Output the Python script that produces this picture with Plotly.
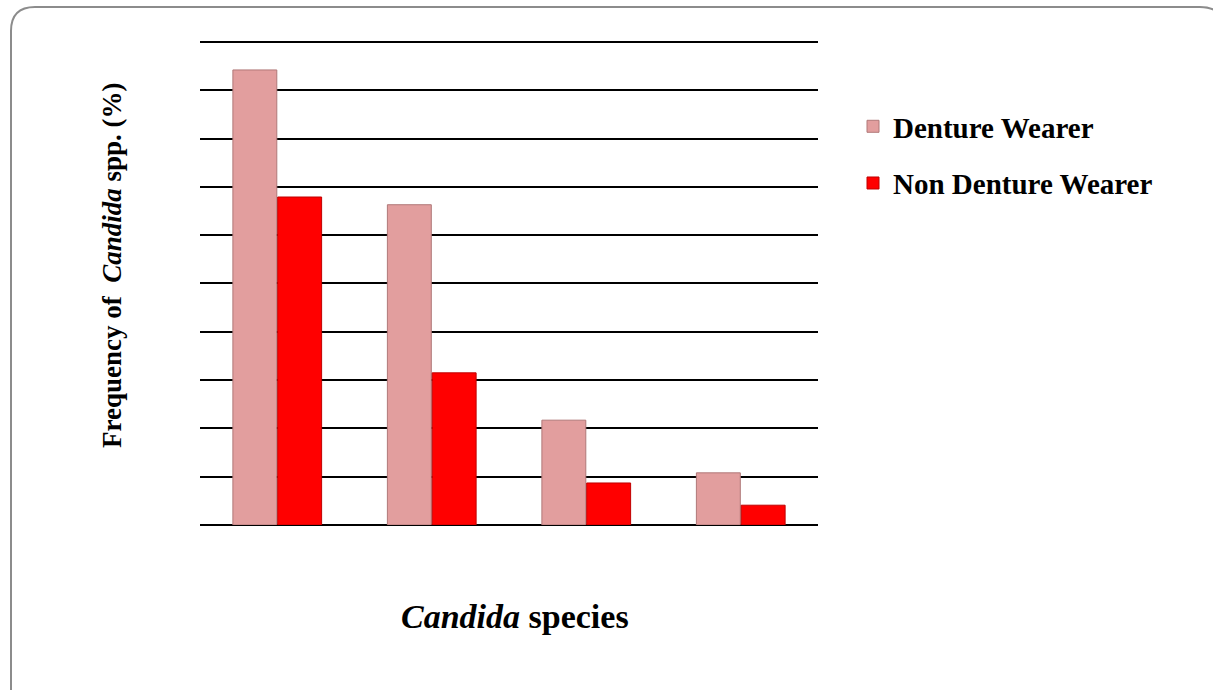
import plotly.graph_objects as go

categories = ["Species 1", "Species 2", "Species 3", "Species 4"]
denture_wearer = [94.2, 66.3, 21.7, 10.8]
non_denture_wearer = [67.9, 31.5, 8.7, 4.1]
series_names = ["Denture Wearer", "Non Denture Wearer"]

W, H = 1213, 690
YMAX = 100.4
L, R, B = 200, 818, 525
T = B - 483 * YMAX / 100

def px(x):
    return (x - L) / (R - L)

def py(y):
    return (B - y) / (B - T)

FONT = "Liberation Serif, Times New Roman, serif"

fig = go.Figure()
fig.add_trace(go.Bar(
    x=categories, y=denture_wearer, name=series_names[0], legendgroup="a",
    marker=dict(color="#E29E9E", line=dict(color="#B07878", width=1)),
))
fig.add_trace(go.Bar(
    x=categories, y=non_denture_wearer, name=series_names[1], legendgroup="b",
    marker=dict(color="#FF0000", line=dict(color="#C00000", width=1)),
))

# rounded frame
r = 24
x0, y0, x1, y1 = 11, 7, 1224, 720
path = (f"M {px(x0)} {py(y1)} L {px(x0)} {py(y0 + r)} "
        f"Q {px(x0)} {py(y0)} {px(x0 + r)} {py(y0)} "
        f"L {px(x1 - r)} {py(y0)} Q {px(x1)} {py(y0)} {px(x1)} {py(y0 + r)} "
        f"L {px(x1)} {py(y1)}")
fig.add_shape(type="path", path=path, xref="paper", yref="paper",
              line=dict(color="#8C8C8C", width=2), layer="below")

fig.add_annotation(text="<b><i>Candida</i> species</b>", xref="paper", yref="paper",
                   x=px(515), y=py(616), yanchor="middle", showarrow=False,
                   font=dict(family=FONT, size=34, color="black", weight="bold"))
fig.add_annotation(text="<b>Frequency of  <i>Candida</i> spp. (%)</b>", xref="paper", yref="paper",
                   x=px(114), y=py(265), xshift=-19, showarrow=False, textangle=-90,
                   font=dict(family=FONT, size=27, color="black", weight="bold"))

fig.update_layout(
    width=W, height=H,
    margin=dict(l=L, r=W - R, t=T, b=H - B, pad=0),
    paper_bgcolor="white", plot_bgcolor="white",
    barmode="group", bargap=0.42, bargroupgap=0.02,
    showlegend=True,
    legend=dict(x=px(853), y=py(101), xanchor="left", yanchor="top",
                font=dict(family=FONT, size=29, color="black", weight="bold"),
                tracegroupgap=16, itemwidth=30, bgcolor="rgba(0,0,0,0)"),
    xaxis=dict(showticklabels=False, showgrid=False, zeroline=False, showline=False,
               ticks=""),
    yaxis=dict(range=[0, YMAX], tickvals=[0, 10, 20, 30, 40, 50, 60, 70, 80, 90, 100],
               showticklabels=False, showgrid=True,
               gridcolor="black", gridwidth=1.5, zeroline=True, zerolinecolor="black",
               zerolinewidth=1.5, showline=False, ticks=""),
)
fig.write_html("out.html", config={"displayModeBar": False},
               post_script="document.body.style.margin='0px';")
